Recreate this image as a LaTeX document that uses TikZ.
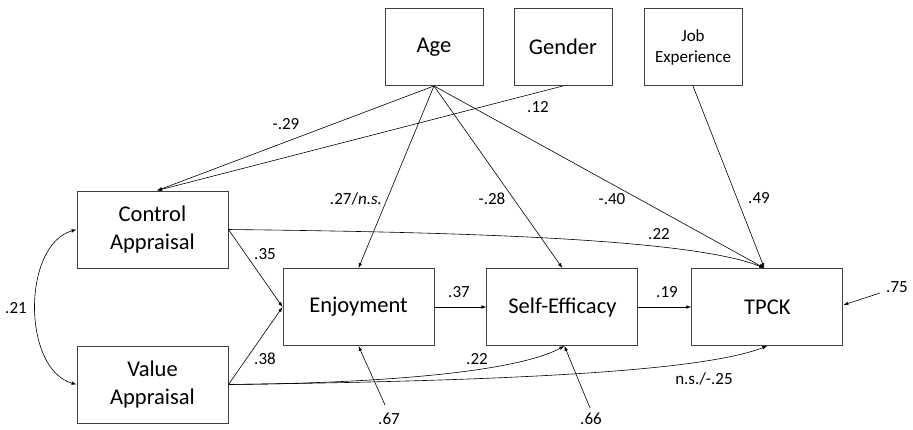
\documentclass[tikz,border=0pt]{standalone}
\usepackage{fontspec}
\setmainfont{Carlito}
\usetikzlibrary{arrows.meta,positioning}

\begin{document}
\begin{tikzpicture}[
 x=1pt,y=-1pt,
 node distance=31pt and 53pt,
 box/.style={draw=black!75,line width=0.9pt,align=center,minimum height=77pt,minimum width=151pt,font=\fontsize{22.5}{28}\selectfont},
 small/.style={box,minimum width=98pt},
 lbl/.style={font=\fontsize{17}{20}\selectfont,inner sep=0pt},
 arr/.style={-{Latex[length=5pt,width=3.5pt]},line width=0.6pt},
 dbl/.style={{Latex[length=5pt,width=3.5pt]}-{Latex[length=5pt,width=3.5pt]},line width=0.6pt}
]
\useasboundingbox (0,0) rectangle (913,429);
% predictors
\node[small] (age) at (434,47) {Age};
\node[small] (gender) at (563,47) {Gender};
\node[small,font=\fontsize{17}{21}\selectfont] (job) at (693,47) {Job\\Experience};
\node[box] (ctrl) at (152.5,229.5) {Control\\Appraisal};
\node[box] (val) at (152.5,384.5) {Value\\Appraisal};
% outcomes
\node[box] (enj) at (358.5,307) {Enjoyment};
\node[box,right=52pt of enj] (se) {Self-Efficacy};
\node[box,right=53pt of se] (tpck) {TPCK};
% residual sources
\coordinate (r1) at (385,405);
\coordinate (r2) at (590,408);
\coordinate (r3) at (880,293);

\draw[arr] (age.south) -- ([xshift=4.5pt]ctrl.north);
\draw[arr] (gender.south) -- ([xshift=4.5pt]ctrl.north);
\draw[arr] (age.south) -- (enj.north);
\draw[arr] (age.south) -- (se.north);
\draw[arr] (age.south) -- ([xshift=-3pt]tpck.north);
\draw[arr] (job.south) -- ([xshift=-3pt]tpck.north);
\draw[arr] (ctrl.east) .. controls (450,232) and (690,238) .. ([xshift=-3pt]tpck.north);
\draw[arr] (ctrl.east) -- (enj.west);
\draw[arr] (val.east) -- (enj.west);
\draw[arr] (enj) -- (se);
\draw[arr] (se) -- (tpck);
\draw[arr] (val.east) .. controls (400,383) and (520,370) .. ([xshift=2pt]se.south);
\draw[arr] (val.east) .. controls (500,381) and (700,372) .. (tpck.south);
\draw[dbl] (ctrl.west) .. controls (22,245) and (22,369) .. (val.west);
\draw[arr] (r1) -- (enj.south);
\draw[arr] (r2) -- ([xshift=2pt]se.south);
\draw[arr] (r3) -- ([yshift=2pt]tpck.east);

% coefficients
\node[lbl] (c1) at (286,124) {-.29};
\node[lbl] (c2) at (538,107) {.12};
\node[lbl] (c3) at (356,199) {.27/\textit{n.s.}};
\node[lbl] (c4) at (492,199) {-.28};
\node[lbl] (c5) at (612,199) {-.40};
\node[lbl] (c6) at (759,198) {.49};
\node[lbl] (c7) at (659,234) {.22};
\node[lbl] (c8) at (265,254) {.35};
\node[lbl] (c9) at (265,359) {.38};
\node[lbl] (c10) at (459,292) {.37};
\node[lbl] (c11) at (667,292) {.19};
\node[lbl] (c12) at (477,359) {.22};
\node[lbl] (c13) at (704,379) {n.s./-.25};
\node[lbl] (c14) at (16,308) {.21};
\node[lbl] (c15) at (389,419) {.67};
\node[lbl] (c16) at (591,419) {.66};
\node[lbl] (c17) at (897,287) {.75};
\end{tikzpicture}
\end{document}
